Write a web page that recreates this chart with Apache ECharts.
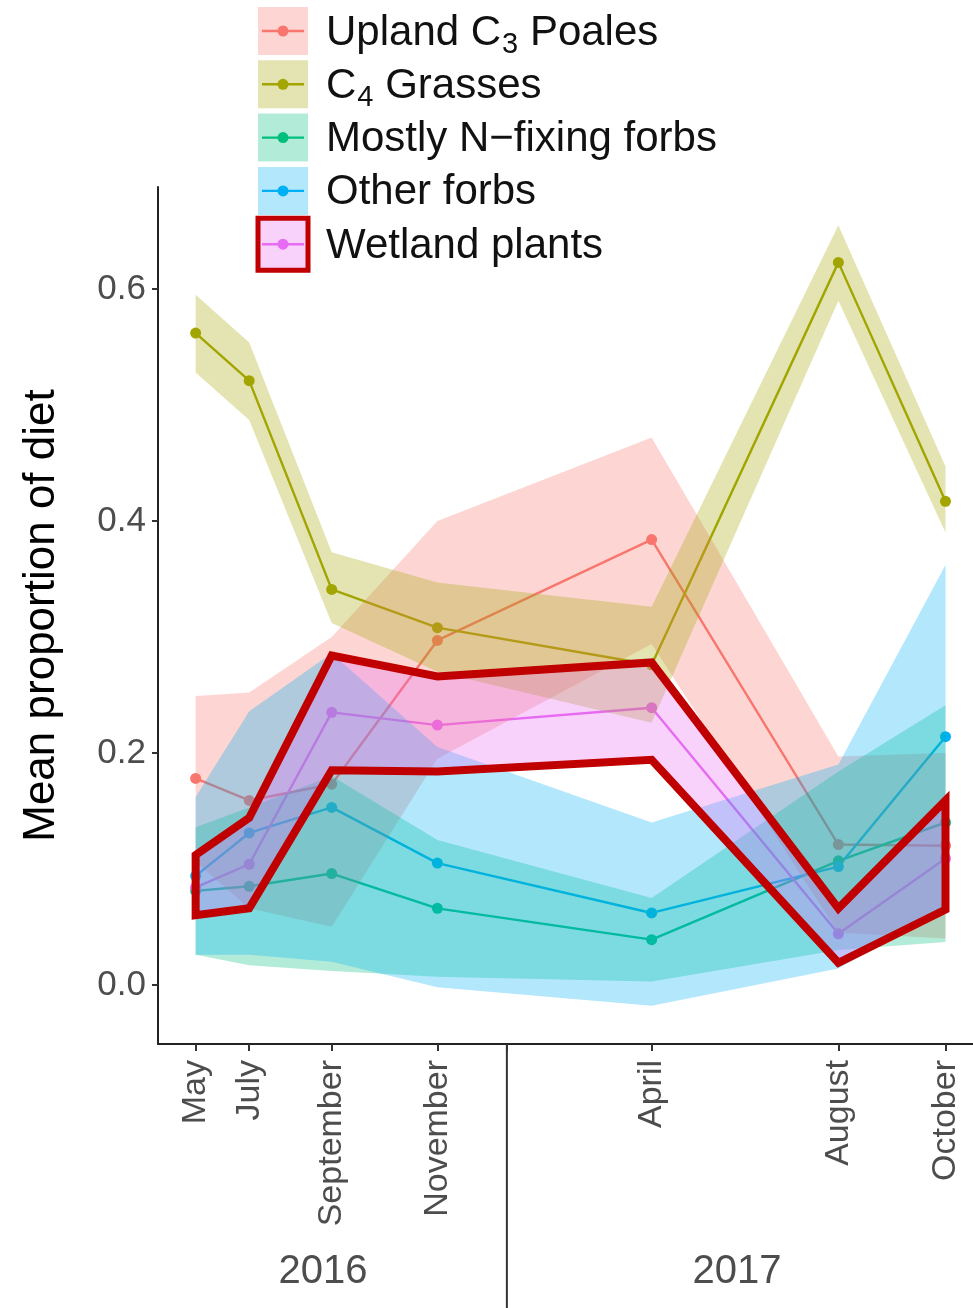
<!DOCTYPE html>
<html><head><meta charset="utf-8">
<script src="https://cdn.jsdelivr.net/npm/echarts@6/dist/echarts.min.js"></script>
<style>html,body{margin:0;padding:0;background:#fff}#c{width:973px;height:1308px}</style>
</head><body><div id="c"></div>
<script>
// ---- data ----
const months = ['May', 'July', 'September', 'November', 'April', 'August', 'October'];
const sampleDay = [0, 37, 94, 167, 315, 444, 518];      // days since first sampling
const yearLabels = ['2016', '2017'];
const yearCenterDay = [88, 374];
const yearDividerDay = 215;
const yTicks = [0, 0.2, 0.4, 0.6];

const groupNames = ['Upland C3 Poales', 'C4 Grasses', 'Mostly N\u2212fixing forbs', 'Other forbs', 'Wetland plants'];
// legend label pieces: [main, subscript, rest]
const legendParts = [
  ['Upland C', '3', ' Poales'],
  ['C', '4', ' Grasses'],
  ['Mostly N\u2212fixing forbs', '', ''],
  ['Other forbs', '', ''],
  ['Wetland plants', '', '']
];
const colors = ['#F8766D', '#A3A500', '#00BF7D', '#00B0F6', '#E76BF3'];

const uplandMean  = [0.178, 0.159, 0.173, 0.297, 0.384, 0.121, 0.120];
const uplandLower = [0.106, 0.066, 0.050, 0.195, 0.294, 0.045, 0.040];
const uplandUpper = [0.249, 0.252, 0.300, 0.400, 0.472, 0.197, 0.200];

const c4Mean  = [0.562, 0.521, 0.341, 0.308, 0.276, 0.623, 0.417];
const c4Lower = [0.528, 0.487, 0.312, 0.270, 0.226, 0.590, 0.390];
const c4Upper = [0.595, 0.554, 0.373, 0.347, 0.326, 0.655, 0.447];

const nfixMean  = [0.081, 0.085, 0.096, 0.066, 0.039, 0.107, 0.140];
const nfixLower = [0.026, 0.017, 0.012, 0.007, 0.003, 0.030, 0.037];
const nfixUpper = [0.136, 0.153, 0.180, 0.125, 0.075, 0.184, 0.241];

const otherMean  = [0.094, 0.131, 0.153, 0.105, 0.062, 0.102, 0.214];
const otherLower = [0.026, 0.026, 0.020, -0.002, -0.018, 0.014, 0.066];
const otherUpper = [0.162, 0.236, 0.286, 0.205, 0.140, 0.190, 0.362];

const wetMean  = [0.084, 0.104, 0.235, 0.224, 0.239, 0.044, 0.109];
const wetLower = [0.060, 0.066, 0.185, 0.184, 0.194, 0.019, 0.065];
const wetUpper = [0.112, 0.144, 0.284, 0.266, 0.278, 0.066, 0.159];

// ---- build ----
const means  = [uplandMean, c4Mean, nfixMean, otherMean, wetMean];
const lowers = [uplandLower, c4Lower, nfixLower, otherLower, wetLower];
const uppers = [uplandUpper, c4Upper, nfixUpper, otherUpper, wetUpper];

function rgba(hex, a) {
  const n = parseInt(hex.slice(1), 16);
  return 'rgba(' + ((n >> 16) & 255) + ',' + ((n >> 8) & 255) + ',' + (n & 255) + ',' + a + ')';
}
const BAND_ALPHA = 0.3;

function polygonSeries(name, lower, upper, style, z) {
  return {
    type: 'custom', name: name, z: z, silent: true, clip: false,
    data: sampleDay.map((d, i) => [d, lower[i], upper[i]]),
    encode: { x: 0, y: [1, 2] },
    renderItem: function (params, api) {
      if (params.dataIndex !== 0) return null;
      const pts = [];
      for (let i = 0; i < sampleDay.length; i++) pts.push(api.coord([sampleDay[i], upper[i]]));
      for (let i = sampleDay.length - 1; i >= 0; i--) pts.push(api.coord([sampleDay[i], lower[i]]));
      return { type: 'polygon', shape: { points: pts }, style: style };
    }
  };
}

const series = [];
for (let g = 0; g < 5; g++) {
  series.push({
    type: 'line', name: groupNames[g], z: 2,
    data: sampleDay.map((d, i) => [d, means[g][i]]),
    symbol: 'circle', symbolSize: 11, showSymbol: true,
    lineStyle: { color: colors[g], width: 2.4 },
    itemStyle: { color: colors[g] },
    emphasis: { disabled: true }, animation: false
  });
}
for (let g = 0; g < 5; g++) {
  series.push(polygonSeries(groupNames[g] + ' band', lowers[g], uppers[g],
    { fill: rgba(colors[g], BAND_ALPHA) }, 3));
}
// highlight outline around the wetland band
series.push(polygonSeries('highlight', wetLower, wetUpper,
  { fill: null, stroke: '#C00000', lineWidth: 8, lineJoin: 'miter', miterLimit: 10 }, 5));

const chart = echarts.init(document.getElementById('c'), null, { renderer: 'canvas' });
const FONT = 'Liberation Sans, Arial, Helvetica, sans-serif';

const option = {
  animation: false,
  backgroundColor: '#fff',
  grid: { left: 158, right: 0, top: 187, bottom: 264, containLabel: false },
  xAxis: {
    type: 'value', min: -26, max: 537,
    splitLine: { show: false },
    axisLine: { show: true, onZero: false, lineStyle: { color: '#222', width: 2 } },
    axisTick: { show: true, length: 7, lineStyle: { color: '#333', width: 2 }, customValues: sampleDay.concat([yearDividerDay]) },
    axisLabel: {
      customValues: sampleDay, rotate: 90, margin: 16,
      fontFamily: FONT, fontSize: 34, color: '#4D4D4D',
      formatter: function (v) { const i = sampleDay.indexOf(v); return i >= 0 ? months[i] : ''; }
    }
  },
  yAxis: {
    type: 'value', min: -0.051, max: 0.688,
    splitLine: { show: false },
    axisLine: { show: true, onZero: false, lineStyle: { color: '#222', width: 2 } },
    axisTick: { show: true, length: 6, lineStyle: { color: '#333', width: 2 }, customValues: yTicks },
    axisLabel: {
      customValues: yTicks, margin: 12,
      fontFamily: FONT, fontSize: 35, color: '#4D4D4D',
      formatter: function (v) { return v.toFixed(1); }
    },
    name: 'Mean proportion of diet', nameLocation: 'middle', nameRotate: 90, nameGap: 94,
    nameTextStyle: { fontFamily: FONT, fontSize: 44, color: '#000' }
  },
  series: series
};
chart.setOption(option);

// ---- legend + year strip (graphics) ----
const LEG_FS = 42, SUB_FS = 29;
const mctx = document.createElement('canvas').getContext('2d');
function textW(s, fs) { mctx.font = fs + 'px ' + FONT; return mctx.measureText(s).width; }

const graphics = [];
const keyX = 258, keyW = 50, keyH = 48, keyTop = 7, keyStep = 53.3;
for (let g = 0; g < 5; g++) {
  const top = keyTop + g * keyStep;
  const cy = top + keyH / 2;
  graphics.push({ type: 'rect', shape: { x: keyX, y: top, width: keyW, height: keyH }, style: { fill: rgba(colors[g], BAND_ALPHA) }, z: 10 });
  graphics.push({ type: 'line', shape: { x1: keyX + 4, y1: cy, x2: keyX + keyW - 4, y2: cy }, style: { stroke: colors[g], lineWidth: 2.4 }, z: 11 });
  graphics.push({ type: 'circle', shape: { cx: keyX + keyW / 2, cy: cy, r: 5.5 }, style: { fill: colors[g] }, z: 11 });
  const mid = cy + 2;
  const p = legendParts[g];
  let x = 326;
  graphics.push({ type: 'text', x: x, y: mid, style: { text: p[0], fontFamily: FONT, fontSize: LEG_FS, fill: '#111', verticalAlign: 'middle' }, z: 11 });
  x += textW(p[0], LEG_FS);
  if (p[1]) {
    graphics.push({ type: 'text', x: x + 1, y: mid + 12, style: { text: p[1], fontFamily: FONT, fontSize: SUB_FS, fill: '#111', verticalAlign: 'middle' }, z: 11 });
    x += textW(p[1], SUB_FS) + 1;
  }
  if (p[2]) {
    graphics.push({ type: 'text', x: x, y: mid, style: { text: p[2], fontFamily: FONT, fontSize: LEG_FS, fill: '#111', verticalAlign: 'middle' }, z: 11 });
  }
}
// red box around wetland legend key
graphics.push({ type: 'rect', shape: { x: keyX, y: keyTop + 4 * keyStep - 2, width: keyW, height: keyH + 4 }, style: { fill: null, stroke: '#C00000', lineWidth: 5 }, z: 12 });

const axisY = chart.convertToPixel({ yAxisIndex: 0 }, -0.051);
const divX = chart.convertToPixel({ xAxisIndex: 0 }, yearDividerDay);
graphics.push({ type: 'line', shape: { x1: divX, y1: axisY, x2: divX, y2: 1308 }, style: { stroke: '#333', lineWidth: 2 }, z: 10 });
for (let k = 0; k < yearLabels.length; k++) {
  const cx = chart.convertToPixel({ xAxisIndex: 0 }, yearCenterDay[k]);
  graphics.push({ type: 'text', x: cx, y: 1272, style: { text: yearLabels[k], fontFamily: FONT, fontSize: 40, fill: '#4D4D4D', align: 'center', verticalAlign: 'middle' }, z: 10 });
}
chart.setOption({ graphic: graphics });
</script>
</body></html>
